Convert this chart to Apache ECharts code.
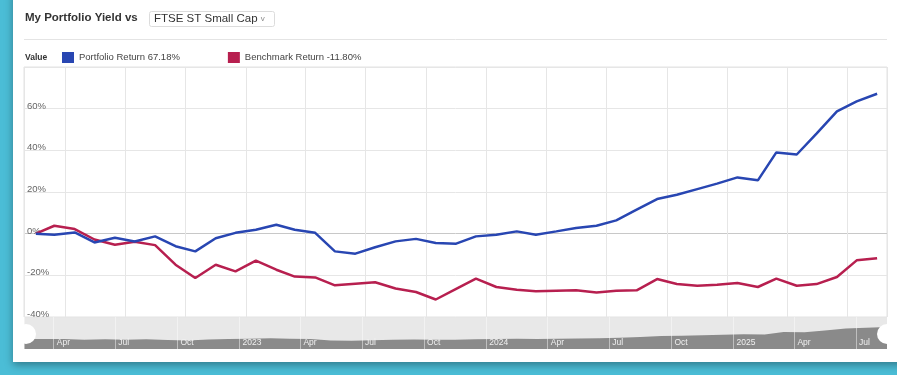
<!DOCTYPE html>
<html><head><meta charset="utf-8">
<script src="https://cdn.jsdelivr.net/npm/echarts@6/dist/echarts.min.js"></script>
<style>
html,body{margin:0;padding:0;width:897px;height:375px;overflow:hidden;background:#4bbdd6;}
#panel{position:absolute;left:13px;top:-10px;width:900px;height:372px;background:#fff;box-shadow:0 3px 8px rgba(0,0,0,0.35);}
#chart{position:absolute;left:0;top:0;width:897px;height:375px;}
</style></head><body><div id="panel"></div><div id="chart"></div>
<script>
const dates = [
  '2022-02-16','2022-03-16','2022-04-16','2022-05-16','2022-06-16','2022-07-16','2022-08-16','2022-09-16','2022-10-16','2022-11-16','2022-12-16',
  '2023-01-16','2023-02-16','2023-03-16','2023-04-16','2023-05-16','2023-06-16','2023-07-16','2023-08-16','2023-09-16','2023-10-16','2023-11-16','2023-12-16',
  '2024-01-16','2024-02-16','2024-03-16','2024-04-16','2024-05-16','2024-06-16','2024-07-16','2024-08-16','2024-09-16','2024-10-16','2024-11-16','2024-12-16',
  '2025-01-16','2025-02-16','2025-03-16','2025-04-16','2025-05-16','2025-06-16','2025-07-16','2025-08-16'
];
const portfolioReturn = [
  0.0, -0.5, 0.6, -4.2, -2.0, -3.8, -1.3, -6.0, -8.5, -2.2, 0.4,
  1.9, 4.3, 1.9, 0.4, -8.5, -9.6, -6.5, -3.7, -2.5, -4.5, -4.8, -1.3,
  -0.5, 1.1, -0.5, 1.1, 2.7, 3.8, 6.4, 11.5, 16.6, 18.7, 21.4, 24.0,
  27.0, 25.6, 39.0, 38.0, 48.0, 58.7, 63.5, 67.18
];
const benchmarkReturn = [
  0.0, 3.8, 2.2, -2.8, -5.3, -3.9, -5.5, -14.9, -21.3, -14.9, -18.1,
  -12.9, -17.3, -20.6, -21.0, -24.8, -24.0, -23.3, -26.3, -28.0, -31.6, -26.5, -21.6,
  -25.6, -26.9, -27.6, -27.4, -27.2, -28.2, -27.4, -27.2, -21.8, -24.2, -25.0, -24.5,
  -23.7, -25.6, -21.6, -25.0, -24.2, -20.8, -12.8, -11.80
];
const seriesNames = ['Portfolio Return', 'Benchmark Return'];
const monthLabels = ['Jan','Feb','Mar','Apr','May','Jun','Jul','Aug','Sep','Oct','Nov','Dec'];
const titleText = 'My Portfolio Yield vs';
const benchmarkChoice = 'FTSE ST Small Cap';

const FONT = 'Liberation Sans, Arial, Helvetica, sans-serif';
const DAY = 86400000;
const pair = arr => dates.map((d, i) => [d, arr[i]]);
const lastVals = {
  'Portfolio Return': portfolioReturn[portfolioReturn.length - 1],
  'Benchmark Return': benchmarkReturn[benchmarkReturn.length - 1]
};
const tickFmt = v => { const d = new Date(v); return d.getMonth() === 0 ? String(d.getFullYear()) : monthLabels[d.getMonth()]; };

const chart = echarts.init(document.getElementById('chart'), null, {renderer: 'canvas'});
chart.setOption({
  animation: false,
  backgroundColor: 'transparent',
  textStyle: {fontFamily: FONT},
  title: [
    {text: titleText, left: 25, top: 12, padding: 0,
     textStyle: {fontSize: 11.5, fontWeight: 'bold', color: '#333', fontFamily: FONT}},
    {text: benchmarkChoice + ' {c|v}', left: 149, top: 11, padding: [2, 10, 2, 5],
     borderColor: '#dcdcdc', borderWidth: 1, borderRadius: 2, backgroundColor: '#fff',
     textStyle: {fontSize: 11.5, fontWeight: 'normal', color: '#333', fontFamily: FONT,
       rich: {c: {fontSize: 8, color: '#888', fontFamily: FONT}}}},
    {text: 'Value', left: 25, top: 53, padding: 0,
     textStyle: {fontSize: 8.5, fontWeight: 'bold', color: '#333', fontFamily: FONT}}
  ],
  legend: {
    data: seriesNames, left: 62, top: 52, padding: 0, icon: 'rect', itemWidth: 12, itemHeight: 11, itemGap: 48,
    textStyle: {fontSize: 9.5, color: '#444', fontFamily: FONT},
    formatter: name => name + ' ' + lastVals[name].toFixed(2) + '%'
  },
  graphic: [
    {type: 'line', shape: {x1: 24, y1: 39.5, x2: 887, y2: 39.5}, style: {stroke: '#e4e4e4', lineWidth: 1}, silent: true}
  ],
  grid: [
    {left: 24, right: 10, top: 67, bottom: 58, show: true, borderColor: '#e3e3e3', borderWidth: 1, backgroundColor: 'transparent'},
    {left: 24, right: 10, top: 317, height: 32, show: true, borderWidth: 0, backgroundColor: '#e8e8e8'}
  ],
  xAxis: [
    {type: 'time', gridIndex: 0, min: '2022-01-29', max: '2025-08-31',
     splitNumber: 13, minInterval: 100 * DAY, maxInterval: 100 * DAY,
     axisLine: {show: false}, axisTick: {show: false}, axisLabel: {show: false},
     splitLine: {show: true, lineStyle: {color: '#e6e6e6', width: 1}}},
    {type: 'time', gridIndex: 1, min: dates[0], max: dates[dates.length - 1], z: 10,
     splitNumber: 13, minInterval: 100 * DAY, maxInterval: 100 * DAY,
     axisLine: {show: false}, axisTick: {show: false},
     axisLabel: {show: true, inside: true, margin: 2, align: 'left', padding: [0, 0, 0, 3],
       fontSize: 8.5, color: '#f0f0f0', formatter: tickFmt, hideOverlap: false},
     splitLine: {show: true, lineStyle: {color: 'rgba(255,255,255,0.45)', width: 1}}}
  ],
  yAxis: [
    {type: 'value', gridIndex: 0, min: -40, max: 80, interval: 20,
     axisLine: {show: false}, axisTick: {show: false},
     axisLabel: {inside: true, margin: 3, verticalAlign: 'bottom', lineHeight: 5,
       fontSize: 9.5, color: '#666', formatter: '{value}%', showMaxLabel: false},
     splitLine: {show: true, lineStyle: {color: ['#e6e6e6', '#e6e6e6', '#c8c8c8', '#e6e6e6', '#e6e6e6', '#e6e6e6', '#e6e6e6'], width: 1}}},
    {type: 'value', gridIndex: 1, min: -56, max: 123, show: false, splitLine: {show: false}}
  ],
  dataZoom: [{
    type: 'slider', xAxisIndex: 1, filterMode: 'none', start: 0, end: 100,
    left: 24, right: 10, top: 324, height: 20, z: 12,
    backgroundColor: 'rgba(0,0,0,0)', borderColor: 'rgba(0,0,0,0)', fillerColor: 'rgba(0,0,0,0)',
    showDataShadow: false, showDetail: false, brushSelect: false, moveHandleSize: 0, zoomLock: true,
    handleIcon: 'circle', handleSize: '100%',
    handleStyle: {color: '#ffffff', borderColor: '#ffffff', borderWidth: 0},
    dataBackground: {lineStyle: {opacity: 0}, areaStyle: {opacity: 0}},
    selectedDataBackground: {lineStyle: {opacity: 0}, areaStyle: {opacity: 0}}
  }],
  series: [
    {name: seriesNames[0], type: 'line', xAxisIndex: 0, yAxisIndex: 0, data: pair(portfolioReturn),
     showSymbol: false, symbol: 'none', color: '#2846b2', lineStyle: {width: 2.5, color: '#2846b2'}, z: 3},
    {name: seriesNames[1], type: 'line', xAxisIndex: 0, yAxisIndex: 0, data: pair(benchmarkReturn),
     showSymbol: false, symbol: 'none', color: '#b71f4f', lineStyle: {width: 2.5, color: '#b71f4f'}, z: 2},
    {name: 'navigator', type: 'line', xAxisIndex: 1, yAxisIndex: 1, data: pair(portfolioReturn),
     showSymbol: false, symbol: 'none', lineStyle: {width: 0}, color: '#8a8a8a',
     areaStyle: {color: '#8a8a8a', opacity: 1, origin: 'start'}, silent: true, z: 1}
  ]
});
</script></body></html>
